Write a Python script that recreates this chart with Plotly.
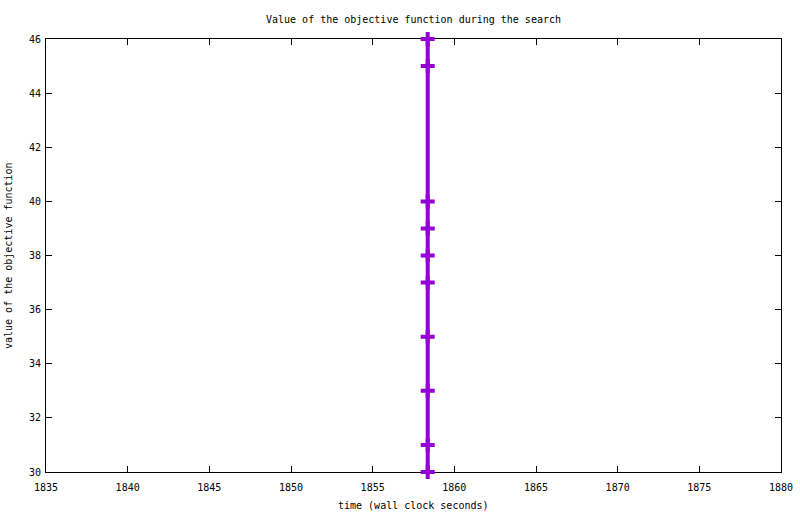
import plotly.graph_objects as go

# search progress: wall clock time and objective value
times = [1858.37] * 10
values = [46, 45, 40, 39, 38, 37, 35, 33, 31, 30]

purple = "#9400D3"
mono = "DejaVu Sans Mono"

fig = go.Figure()
fig.add_trace(go.Scatter(
    x=times, y=values, mode="lines+markers",
    line=dict(color=purple, width=4),
    marker=dict(symbol="cross-thin", size=10, line=dict(color=purple, width=4)),
    cliponaxis=False, showlegend=False,
))

axis_style = dict(
    showgrid=False, zeroline=False, showline=True, linecolor="black", linewidth=1,
    mirror="allticks", ticks="inside", ticklen=6, tickcolor="black",
    layer="below traces", automargin=False,
    tickfont=dict(family=mono, size=10, color="black"),
)

fig.update_layout(
    width=800, height=514,
    margin=dict(l=46, r=19, t=39, b=42),
    paper_bgcolor="white", plot_bgcolor="white",
    title=dict(text="Value of the objective function during the search",
               xref="paper", x=0.5, xanchor="center",
               y=1 - 19 / 514, yanchor="middle",
               font=dict(family=mono, size=10, color="black")),
    xaxis=dict(range=[1835, 1880], dtick=5, tick0=1835, ticklabelstandoff=6,
               **axis_style),
    yaxis=dict(range=[30, 46], dtick=2, tick0=30, ticklabelstandoff=2,
               **axis_style),
    annotations=[
        dict(text="value of the objective function", textangle=-90,
             xref="paper", yref="paper", x=0, y=0.5,
             xanchor="right", yanchor="middle", xshift=-30,
             showarrow=False, font=dict(family=mono, size=10, color="black")),
        dict(text="time (wall clock seconds)",
             xref="paper", yref="paper", x=0.5, y=0,
             xanchor="center", yanchor="middle", yshift=-33,
             showarrow=False, font=dict(family=mono, size=10, color="black")),
    ],
)

# drop the default page margin so the figure sits at the top-left corner
fig.write_html("out.html", config={"displayModeBar": False},
               post_script="document.body.style.margin='0';")
